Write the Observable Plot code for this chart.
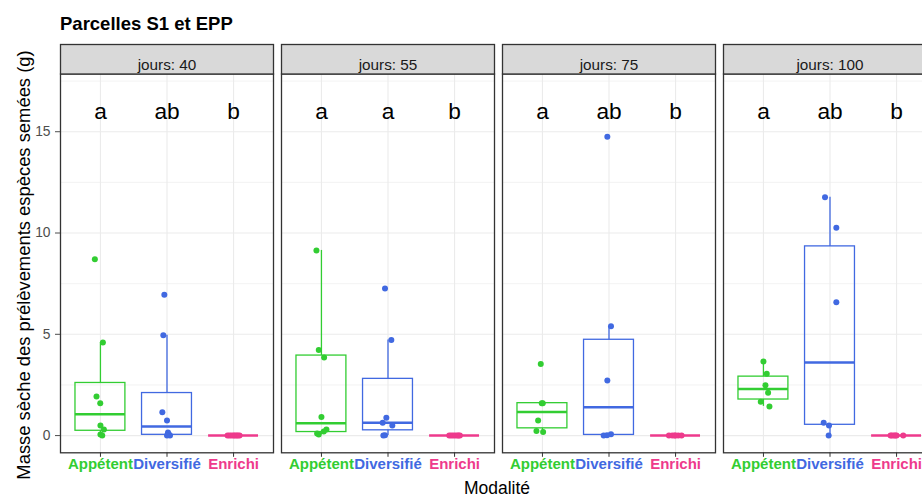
<!DOCTYPE html>
<html><head><meta charset="utf-8">
<script src="https://cdn.jsdelivr.net/npm/d3@7"></script>
<script src="https://cdn.jsdelivr.net/npm/@observablehq/plot@0.6"></script>
<style>
html,body{margin:0;padding:0;background:#fff;overflow:hidden;}
#wrap{position:relative;width:922px;height:498px;overflow:hidden;font-family:"Liberation Sans",Arial,sans-serif;background:#fff;}
#chart{position:absolute;left:0;top:0;width:943px;}
#chart svg{max-width:none !important;width:943px !important;height:498px !important;}
.t{position:absolute;line-height:1;white-space:nowrap;color:#000;}
#title{left:60px;top:15.3px;font-weight:bold;font-size:18.5px;}
#ylab{left:23.5px;top:265px;font-size:18.4px;transform:translate(-50%,-50%) rotate(-90deg);}
#xlab{left:497px;top:479.5px;font-size:17.5px;transform:translateX(-50%);}
</style></head>
<body>
<div id="wrap">
  <div id="chart"></div>
  <div class="t" id="title">Parcelles S1 et EPP</div>
  <div class="t" id="ylab">Masse sèche des prélèvements espèces semées (g)</div>
  <div class="t" id="xlab">Modalité</div>
</div>
<script>
// ---- data ----
const jours = [40, 55, 75, 100];
const modalites = ["Appétent", "Diversifié", "Enrichi"];
const couleurs = ["#32CD32", "#4169E1", "#EE3A8C"];
const lettres = [["a", "ab", "b"], ["a", "a", "b"], ["a", "ab", "b"], ["a", "ab", "b"]];
const yLettres = 16;
const yTicks = [0, 5, 10, 15];
const yMinor = [2.5, 7.5, 12.5, 17.5];

// masse per jour : [Appétent, Diversifié, Enrichi]
const masse40 = [[8.71, 4.6, 1.93, 1.6, 0.5, 0.3, 0.05, 0.0], [6.95, 4.95, 1.15, 0.75, 0.15, 0.05, 0, 0], [0, 0, 0, 0, 0, 0, 0, 0]];
const masse55 = [[9.14, 4.22, 3.86, 0.92, 0.3, 0.2, 0.1, 0.05], [7.26, 4.72, 0.88, 0.63, 0.5, 0.0, 0.02], [0, 0, 0, 0, 0, 0, 0]];
const masse75 = [[3.53, 1.6, 1.6, 0.74, 0.23, 0.18], [14.75, 5.4, 2.72, 0.07, 0.02, 0.0], [0, 0, 0, 0, 0, 0]];
const masse100 = [[3.66, 3.05, 2.49, 2.11, 1.67, 1.44], [11.77, 10.26, 6.58, 0.63, 0.5, 0.0], [0, 0, 0, 0, 0, 0]];

// horizontal jitter of each point (category units)
const jitter40 = [[-0.084, 0.037, -0.059, -0.003, 0, 0.052, 0.0, 0.027], [-0.04, -0.055, -0.07, 0, 0.015, 0.03, 0.045, 0.0], [-0.09, -0.06, -0.03, 0, 0.02, 0.045, 0.065, 0.09]];
const jitter55 = [[-0.075, -0.04, 0.04, 0, 0.075, 0.035, -0.065, -0.04], [-0.045, 0.05, -0.025, -0.08, 0.065, -0.07, -0.045], [-0.08, -0.05, -0.02, 0.01, 0.04, 0.06, 0.08]];
const jitter75 = [[-0.025, -0.01, 0.005, -0.065, -0.09, 0.01], [-0.025, 0.03, -0.025, 0.03, -0.03, -0.08], [-0.1, -0.05, -0.015, 0.0, 0.04, 0.09]];
const jitter100 = [[0, 0.05, 0.03, 0.07, -0.04, 0.09], [-0.075, 0.095, 0.095, -0.095, -0.015, -0.02], [-0.09, -0.07, -0.04, -0.02, 0.0, 0.1]];

const masse = [masse40, masse55, masse75, masse100];
const jitter = [jitter40, jitter55, jitter75, jitter100];

// ---- derived tables ----
const rows = [];
const stats = [];
jours.forEach((j, ji) => modalites.forEach((m, mi) => {
  masse[ji][mi].forEach((v, k) => rows.push({jours: j, mod: m, i: mi + 1, masse: v, xj: mi + 1 + jitter[ji][mi][k]}));
  const s = masse[ji][mi].slice().sort(d3.ascending);
  const q1 = d3.quantile(s, 0.25), med = d3.quantile(s, 0.5), q3 = d3.quantile(s, 0.75), iqr = q3 - q1;
  const lo = d3.min(s.filter(v => v >= q1 - 1.5 * iqr));
  const hi = d3.max(s.filter(v => v <= q3 + 1.5 * iqr));
  stats.push({jours: j, mod: m, i: mi + 1, q1, med, q3, lo, hi, lettre: lettres[ji][mi]});
}));

const half = 0.375;
const panelTop = 73.5, panelBottom = 452.3;

const chart = Plot.plot({
  width: 943, height: 498,
  marginTop: panelTop, marginBottom: 498 - panelBottom, marginLeft: 60, marginRight: 7,
  style: {fontFamily: "'Liberation Sans', Arial, sans-serif", background: "white", overflow: "visible", maxWidth: "none"},
  fx: {domain: jours, paddingInner: 0.038, paddingOuter: 0, axis: null, label: null},
  x: {domain: [0.4, 3.6]},
  y: {domain: [-0.85, 17.85]},
  color: {domain: modalites, range: couleurs},
  marks: [
    Plot.gridY({ticks: yMinor, stroke: "#EBEBEB", strokeOpacity: 1, strokeWidth: 0.6}),
    Plot.gridY({ticks: yTicks, stroke: "#EBEBEB", strokeOpacity: 1, strokeWidth: 1.1}),
    Plot.gridX({ticks: [1, 2, 3], stroke: "#EBEBEB", strokeOpacity: 1, strokeWidth: 1.1}),
    Plot.frame({stroke: "#333333", strokeWidth: 1.3}),
    Plot.frame({fill: "#D9D9D9", stroke: "#333333", strokeWidth: 1.3, insetTop: -29.5, insetBottom: panelBottom - panelTop}),
    Plot.text(jours, {fx: d => d, text: d => `jours: ${d}`, frameAnchor: "top", dy: -14.5, fontSize: 15.3, fill: "#1A1A1A"}),
    Plot.axisY({ticks: yTicks, tickSize: 5, tickPadding: 5, label: null, fontSize: 13.8, color: "#4D4D4D"}),
    Plot.axisX({ticks: [1, 2, 3], tickSize: 4.5, tickFormat: () => "", label: null, color: "#333333"}),
    Plot.text(modalites, {x: (d, i) => i + 1, text: d => d, fill: d => d, frameAnchor: "bottom", dy: 15.7, fontSize: 15, fontWeight: "bold"}),
    Plot.ruleX(stats, {fx: "jours", x: "i", y1: "q3", y2: "hi", stroke: "mod", strokeWidth: 1.3}),
    Plot.ruleX(stats, {fx: "jours", x: "i", y1: "lo", y2: "q1", stroke: "mod", strokeWidth: 1.3}),
    Plot.rect(stats, {fx: "jours", x1: d => d.i - half, x2: d => d.i + half, y1: "q1", y2: "q3", stroke: "mod", fill: "none", strokeWidth: 1.3}),
    Plot.ruleY(stats, {fx: "jours", y: "med", x1: d => d.i - half, x2: d => d.i + half, stroke: "mod", strokeWidth: 2.5}),
    Plot.dot(rows, {fx: "jours", x: "xj", y: "masse", fill: "mod", r: 3}),
    Plot.text(stats, {fx: "jours", x: "i", y: () => yLettres, text: "lettre", fontSize: 22.7, fill: "black"})
  ]
});
document.getElementById("chart").appendChild(chart);
</script>
</body></html>
